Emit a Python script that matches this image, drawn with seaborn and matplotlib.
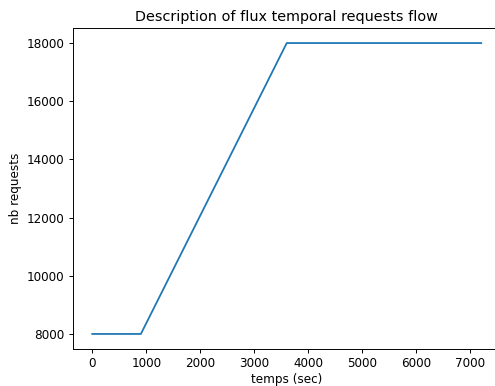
import matplotlib
matplotlib.use("Agg")
import matplotlib.pyplot as plt
import seaborn as sns
import pandas as pd

times = [0, 900, 3600, 7200]
requests = [8000, 8000, 18000, 18000]

df = pd.DataFrame({"temps": times, "requests": requests})

DPI = 86.3
W, H = 495, 386
fig = plt.figure(figsize=(W / DPI, H / DPI), dpi=DPI)
ax = fig.add_axes([72.8 / W, (H - 348.5) / H, (500.7 - 72.8) / W, (348.5 - 28.5) / H])
sns.lineplot(data=df, x="temps", y="requests", ax=ax, color="#1f77b4", linewidth=1.5)
ax.set_xlim(-360, 7560)
ax.set_ylim(7500, 18500)
ax.set_xticks([0, 1000, 2000, 3000, 4000, 5000, 6000, 7000])
ax.set_yticks([8000, 10000, 12000, 14000, 16000, 18000])
ax.set_xlabel("temps (sec)", labelpad=2.5)
ax.set_ylabel("nb requests")
ax.set_title("Description of flux temporal requests flow")
fig.savefig("out.png", dpi=DPI)
